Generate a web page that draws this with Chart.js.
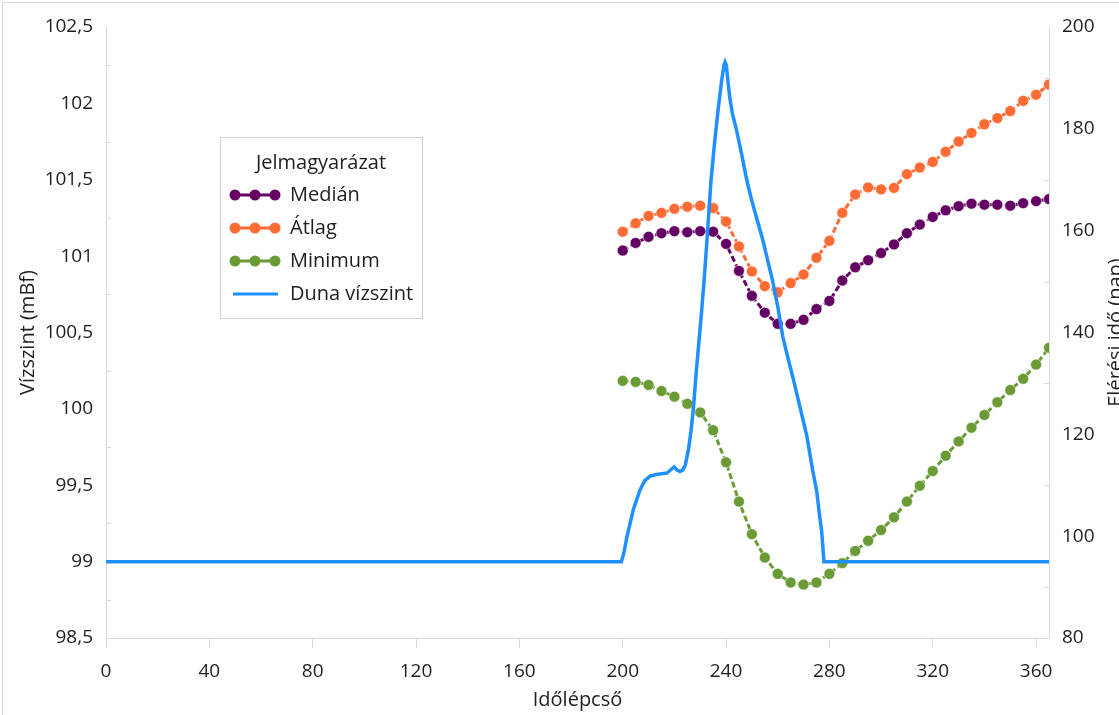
<!DOCTYPE html>
<html lang="hu">
<head>
<meta charset="UTF-8" />
<meta name="viewport" content="width=device-width, initial-scale=1.0" />
<title>Elérési idő és Duna vízszint</title>
<script src="https://cdn.jsdelivr.net/npm/chart.js"></script>
<style>
  html, body { margin: 0; padding: 0; overflow: hidden; background: #fff; }
  canvas { display: block; }
</style>
</head>
<body>
<canvas id="chart" width="1140" height="730"></canvas>
<script>
// time steps of the dotted series (every 5th step)
const stepX = [200, 205, 210, 215, 220, 225, 230, 235, 240, 245, 250, 255, 260, 265, 270, 275, 280, 285,
               290, 295, 300, 305, 310, 315, 320, 325, 330, 335, 340, 345, 350, 355, 360, 365];
// arrival time (nap), right axis
const median = [156.1, 157.6, 158.8, 159.5, 159.9, 159.7, 159.9, 159.8, 157.4, 152.1, 147.2, 143.9, 141.7, 141.7, 142.5, 144.6, 146.2, 150.2,
                152.8, 154.2, 155.6, 157.3, 159.5, 161.2, 162.7, 164.0, 164.8, 165.3, 165.1, 165.1, 164.9, 165.4, 165.8, 166.2];
const atlag = [159.8, 161.45, 162.9, 163.5, 164.3, 164.7, 164.9, 164.45, 161.8, 156.9, 152.0, 149.1, 147.9, 149.7, 151.4, 154.7, 158.0, 163.5,
               167.1, 168.5, 168.1, 168.4, 171.1, 172.4, 173.5, 175.5, 177.5, 179.2, 180.9, 182.1, 183.5, 185.5, 186.7, 188.7];
const minimum = [130.5, 130.3, 129.7, 128.5, 127.4, 126.0, 124.3, 120.8, 114.5, 106.8, 100.4, 95.8, 92.6, 90.9, 90.5, 90.9, 92.6, 94.7,
                 97.1, 99.1, 101.2, 103.7, 106.8, 109.9, 112.8, 115.8, 118.6, 121.3, 123.8, 126.3, 128.7, 130.9, 133.7, 137.0];
// Danube water level (mBf), left axis
const dunaX = [0, 199.5, 200.5, 201.6, 203, 204.1, 205.5, 206.7, 208.5, 210.6, 213, 215, 217.1, 218.5, 219.9, 221, 222.2, 223.2, 224.2,
               225.4, 226.4, 227.4, 228.4, 229.4, 230.5, 231.5, 232.8, 234.2, 235.6, 237, 238.3, 239.2, 239.6, 240.1, 240.7, 241.5,
               242.5, 244, 246, 248, 250, 252, 254, 256, 258, 260, 262, 264, 266.1, 268.5, 271.3, 273.5, 275.1, 276.2, 277, 277.9, 365];
const dunaY = [99, 99, 99.06, 99.16, 99.26, 99.34, 99.41, 99.47, 99.53, 99.56, 99.57, 99.575, 99.58, 99.6, 99.62, 99.6, 99.59, 99.6, 99.63,
               99.73, 99.85, 100.01, 100.23, 100.42, 100.63, 100.84, 101.15, 101.5, 101.75, 101.97, 102.15, 102.25, 102.27, 102.25, 102.15, 102.03,
               101.93, 101.83, 101.67, 101.5, 101.36, 101.24, 101.12, 100.98, 100.84, 100.67, 100.47, 100.33, 100.19, 100.02, 99.82, 99.6, 99.46, 99.3, 99.2, 99.0, 99.0];
const xTicks = [0, 40, 80, 120, 160, 200, 240, 280, 320, 360];
const names = ['Medián', 'Átlag', 'Minimum', 'Duna vízszint'];
const colors = ['#640064', '#ff6b35', '#6b9b37', '#1e90ff'];

const W = 1140, H = 730;
const textColor = '#1e1e1e';
const axisColor = '#d9d9d9';
Chart.defaults.font.family = "'Open Sans', sans-serif";
Chart.defaults.color = textColor;

function dotted(i, values) {
  return {
    label: names[i],
    data: stepX.map((x, k) => ({ x: x, y: values[k] })),
    yAxisID: 'y1',
    borderColor: colors[i],
    backgroundColor: colors[i],
    borderWidth: 3,
    borderDash: [6, 3],
    pointRadius: 5.5,
    pointBackgroundColor: colors[i],
    pointBorderColor: 'rgba(255,255,255,0.6)',
    pointBorderWidth: 1,
    order: i + 1,
  };
}

// small inside minor ticks, outer border, right title, legend box
const extras = {
  id: 'extras',
  afterDraw(chart) {
    const ctx = chart.ctx;
    const area = chart.chartArea;
    ctx.save();
    // minor ticks
    ctx.strokeStyle = axisColor;
    ctx.lineWidth = 1;
    [chart.scales.y, chart.scales.y1].forEach(s => {
      for (let i = 0; i < s.ticks.length - 1; i++) {
        const mid = (s.ticks[i].value + s.ticks[i + 1].value) / 2;
        const py = Math.round(s.getPixelForValue(mid)) + 0.5;
        ctx.beginPath();
        if (s.position === 'left') { ctx.moveTo(area.left, py); ctx.lineTo(area.left + 5, py); }
        else { ctx.moveTo(area.right - 5, py); ctx.lineTo(area.right, py); }
        ctx.stroke();
      }
    });
    // outer chart border
    ctx.strokeRect(2.5, 2.5, W, H);

    // right axis title (reads bottom to top)
    ctx.fillStyle = textColor;
    ctx.font = "20px 'Open Sans', sans-serif";
    ctx.translate(1116, (area.top + area.bottom) / 2);
    ctx.rotate(-Math.PI / 2);
    ctx.textAlign = 'center';
    ctx.textBaseline = 'middle';
    ctx.fillText('Elérési idő (nap)', 0, 0);
    ctx.restore();

    // legend
    ctx.save();
    const bx = 220, by = 137, bw = 202, bh = 181;
    ctx.fillStyle = '#fff';
    ctx.fillRect(bx, by, bw, bh);
    ctx.strokeStyle = '#d0d0d0';
    ctx.strokeRect(bx + 0.5, by + 0.5, bw, bh);
    ctx.fillStyle = textColor;
    ctx.font = "20px 'Open Sans', sans-serif";
    ctx.textAlign = 'center';
    ctx.textBaseline = 'middle';
    ctx.fillText('Jelmagyarázat', bx + bw / 2, 163);
    ctx.textAlign = 'left';
    chart.data.datasets.slice().sort((a, b) => names.indexOf(a.label) - names.indexOf(b.label)).forEach((ds, i) => {
      const yy = 195 + i * 33;
      ctx.strokeStyle = ds.borderColor;
      ctx.lineWidth = 3;
      ctx.beginPath();
      ctx.moveTo(233, yy);
      ctx.lineTo(278, yy);
      ctx.stroke();
      if (ds.pointRadius) {
        ctx.fillStyle = ds.borderColor;
        [235, 255, 275].forEach(px => {
          ctx.beginPath();
          ctx.arc(px, yy, 5.5, 0, Math.PI * 2);
          ctx.fill();
        });
      }
      ctx.fillStyle = textColor;
      ctx.fillText(ds.label, 290, yy);
    });
    ctx.restore();
  }
};

new Chart(document.getElementById('chart').getContext('2d'), {
  type: 'line',
  data: {
    datasets: [
      dotted(0, median),
      dotted(1, atlag),
      dotted(2, minimum),
      {
        label: names[3],
        data: dunaX.map((x, k) => ({ x: x, y: dunaY[k] })),
        yAxisID: 'y',
        borderColor: colors[3],
        backgroundColor: colors[3],
        borderWidth: 3.5,
        pointRadius: 0,
        tension: 0,
        order: 0,
      },
    ],
  },
  options: {
    responsive: false,
    devicePixelRatio: 1,
    animation: false,
    layout: { padding: { top: 27, left: 0, right: 0, bottom: 0 } },
    plugins: { legend: { display: false }, tooltip: { enabled: false } },
    scales: {
      x: {
        type: 'linear',
        min: 0,
        max: 365,
        afterBuildTicks: s => { s.ticks = xTicks.map(v => ({ value: v })); },
        afterFit: s => { s.height = H - 638; },
        grid: { drawOnChartArea: false, color: axisColor, tickLength: 10 },
        border: { color: axisColor },
        ticks: { padding: 12, font: { size: 19 }, maxRotation: 0, autoSkip: false },
        title: { display: true, text: 'Időlépcső', font: { size: 20 }, padding: { top: 0, bottom: 18 } },
      },
      y: {
        type: 'linear',
        position: 'left',
        min: 98.5,
        max: 102.5,
        afterFit: s => { s.width = 106; },
        ticks: { stepSize: 0.5, padding: 13, font: { size: 19 }, callback: v => String(v).replace('.', ',') },
        grid: { drawOnChartArea: false, drawTicks: false },
        border: { color: axisColor },
        title: { display: true, text: 'Vízszint (mBf)', font: { size: 20 }, padding: { top: 16, bottom: 0 } },
      },
      y1: {
        type: 'linear',
        position: 'right',
        min: 80,
        max: 200,
        afterFit: s => { s.width = W - 1049; },
        ticks: { stepSize: 20, padding: 13, font: { size: 19 } },
        grid: { drawOnChartArea: false, drawTicks: false },
        border: { color: axisColor },
      },
    },
  },
  plugins: [extras],
});
</script>
</body>
</html>
